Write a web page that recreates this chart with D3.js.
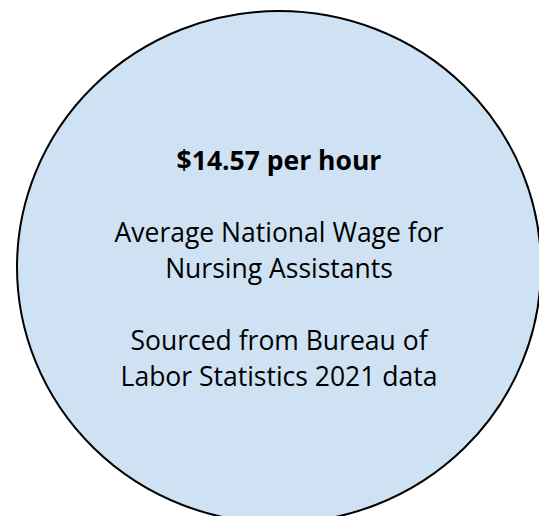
<!DOCTYPE html>
<html>
<head>
<meta charset="utf-8">
<script src="https://cdn.jsdelivr.net/npm/d3@7"></script>
<style>
  body { margin: 0; background: #fff; }
  text { font-family: "Open Sans", sans-serif; fill: #000; }
</style>
</head>
<body>
<script>
// values shown in the bubble
var wage = [14.57];
var headline = ["$" + wage[0].toFixed(2) + " per hour"];
var description = ["Average National Wage for", "Nursing Assistants"];
var source = ["Sourced from Bureau of", "Labor Statistics 2021 data"];

var width = 539,
    height = 516;

var svg = d3.select("body").append("svg")
            .attr("width", width)
            .attr("height", height);

// bubble
var cx = 279, cy = 267;
svg.append("ellipse")
   .attr("cx", cx)
   .attr("cy", cy)
   .attr("rx", 262)
   .attr("ry", 256)
   .attr("fill", "#cfe2f3")
   .attr("stroke", "#000")
   .attr("stroke-width", 2);

// text lines, blank line between the groups
var lines = [];
headline.forEach(function(t) { lines.push({ text: t, bold: true }); });
lines.push(null);
description.forEach(function(t) { lines.push({ text: t, bold: false }); });
lines.push(null);
source.forEach(function(t) { lines.push({ text: t, bold: false }); });

var lineHeight = 36;
var y = d3.scaleLinear()
          .domain([0, 1])
          .range([170, 170 + lineHeight]);

svg.append("g")
   .classed("labels", true)
   .selectAll("text")
   .data(lines.map(function(d, i) { return { d: d, i: i }; })
              .filter(function(o) { return o.d != null; }))
   .enter()
     .append("text")
     .attr("x", cx)
     .attr("y", function(o) { return y(o.i); })
     .attr("text-anchor", "middle")
     .style("font-size", "26.5px")
     .style("font-weight", function(o) { return o.d.bold ? 700 : 400; })
     .text(function(o) { return o.d.text; });
</script>
</body>
</html>
